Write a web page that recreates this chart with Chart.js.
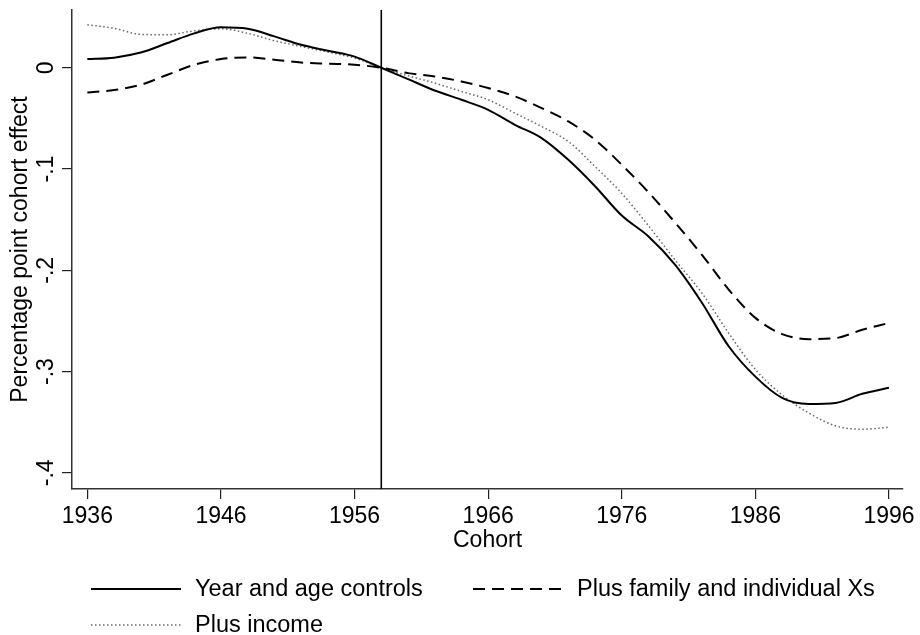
<!DOCTYPE html>
<html>
<head>
<meta charset="utf-8">
<title>Cohort effects</title>
<script src="https://cdn.jsdelivr.net/npm/chart.js@4.4.1/dist/chart.umd.min.js"></script>
<style>
  html, body { margin: 0; padding: 0; background: #fff; }
  #wrap { width: 920px; height: 635px; position: relative; }
</style>
</head>
<body>
<div id="wrap"><canvas id="cohortChart"></canvas></div>
<script>
// values (two-year steps)
const cohortYears = [1936, 1938, 1940, 1942, 1944, 1946, 1948, 1950, 1952, 1954, 1956,
                     1958, 1960, 1962, 1964, 1966, 1968, 1970, 1972, 1974, 1976,
                     1978, 1980, 1982, 1984, 1986, 1988, 1990, 1992, 1994, 1996];

const yearAgeControls = [0.0086, 0.0100, 0.0150, 0.0244, 0.0340, 0.0400, 0.0385, 0.0310, 0.0227, 0.0168, 0.0110,
                         0.0000, -0.0112, -0.0224, -0.0316, -0.0415, -0.0563, -0.0694, -0.0909, -0.1170, -0.1460,
                         -0.1666, -0.1946, -0.2320, -0.2750, -0.3050, -0.3260, -0.3320, -0.3310, -0.3220, -0.3160];

const plusFamilyXs = [-0.0244, -0.0220, -0.0168, -0.0069, 0.0030, 0.0086, 0.0102, 0.0079, 0.0052, 0.0040, 0.0030,
                      0.0000, -0.0053, -0.0086, -0.0135, -0.0200, -0.0283, -0.0398, -0.0530, -0.0711, -0.0958,
                      -0.1230, -0.1530, -0.1847, -0.2190, -0.2470, -0.2630, -0.2680, -0.2670, -0.2588, -0.2520];

const plusIncome = [0.0425, 0.0390, 0.0330, 0.0326, 0.0365, 0.0385, 0.0340, 0.0267, 0.0210, 0.0155, 0.0096,
                    0.0000, -0.0079, -0.0151, -0.0234, -0.0316, -0.0448, -0.0580, -0.0728, -0.0975, -0.1240,
                    -0.1560, -0.1900, -0.2225, -0.2620, -0.2980, -0.3230, -0.3410, -0.3536, -0.3570, -0.3550];

const seriesNames = ['Year and age controls', 'Plus family and individual Xs', 'Plus income'];
const referenceCohort = 1958;
const xTickValues = [1936, 1946, 1956, 1966, 1976, 1986, 1996];
const yTickValues = [-0.4, -0.3, -0.2, -0.1, 0];

const fontFamily = "'Liberation Sans', Arial, Helvetica, sans-serif";

function toPoints(values) {
    return cohortYears.map((year, i) => ({ x: year, y: values[i] }));
}

// stata style labels: 0, -.1, -.2 ...
function formatY(v) {
    if (Math.abs(v) < 1e-9) return '0';
    return (v < 0 ? '-' : '') + Math.abs(v).toFixed(1).replace(/^0/, '');
}

// vertical line at the reference cohort
const refLinePlugin = {
    id: 'refLine',
    afterDatasetsDraw(chart) {
        const { ctx, chartArea, scales } = chart;
        const px = scales.x.getPixelForValue(referenceCohort);
        ctx.save();
        ctx.strokeStyle = '#000';
        ctx.lineWidth = 1.6;
        ctx.beginPath();
        ctx.moveTo(px, chartArea.top);
        ctx.lineTo(px, chartArea.bottom);
        ctx.stroke();
        ctx.restore();
    }
};

// legend below the plot, two columns like the original
const legendPlugin = {
    id: 'bottomLegend',
    afterDraw(chart) {
        const { ctx } = chart;
        const slots = [{ x: 91, y: 589 }, { x: 473, y: 589 }, { x: 91, y: 625 }];
        chart.data.datasets.forEach((ds, i) => {
            const s = slots[i];
            ctx.save();
            ctx.strokeStyle = ds.borderColor;
            ctx.lineWidth = ds.borderWidth;
            ctx.setLineDash(ds.borderDash || []);
            ctx.beginPath();
            ctx.moveTo(s.x, s.y);
            ctx.lineTo(s.x + 90, s.y);
            ctx.stroke();
            ctx.setLineDash([]);
            ctx.fillStyle = '#000';
            ctx.font = '23.5px ' + fontFamily;
            ctx.textBaseline = 'middle';
            ctx.textAlign = 'left';
            ctx.fillText(ds.label, s.x + 104, s.y + 1);
            ctx.restore();
        });
    }
};

const ctx = document.getElementById('cohortChart').getContext('2d');
new Chart(ctx, {
    type: 'line',
    data: {
        datasets: [
            {
                label: seriesNames[0],
                data: toPoints(yearAgeControls),
                borderColor: '#000',
                borderWidth: 2,
                borderDash: []
            },
            {
                label: seriesNames[1],
                data: toPoints(plusFamilyXs),
                borderColor: '#000',
                borderWidth: 2,
                borderDash: [12, 7]
            },
            {
                label: seriesNames[2],
                data: toPoints(plusIncome),
                borderColor: '#666',
                borderWidth: 1.5,
                borderDash: [1.5, 2.5]
            }
        ]
    },
    options: {
        responsive: true,
        maintainAspectRatio: false,
        animation: false,
        layout: { padding: { left: 0, top: 10, right: 17, bottom: 80 } },
        elements: {
            point: { radius: 0 },
            line: { cubicInterpolationMode: 'monotone', borderCapStyle: 'butt', fill: false }
        },
        plugins: {
            legend: { display: false },
            tooltip: { enabled: false }
        },
        scales: {
            x: {
                type: 'linear',
                min: 1934.85,
                max: 1997.05,
                afterBuildTicks: s => { s.ticks = xTickValues.map(v => ({ value: v })); },
                afterFit: s => { s.height = 66; },
                grid: { drawOnChartArea: false, drawTicks: true, tickLength: 10, color: '#222', lineWidth: 1.2 },
                border: { display: true, color: '#333', width: 1.5 },
                ticks: {
                    color: '#000',
                    autoSkip: false,
                    maxRotation: 0,
                    padding: 4,
                    font: { family: fontFamily, size: 23 },
                    callback: v => String(v)
                },
                title: {
                    display: true,
                    text: 'Cohort',
                    color: '#000',
                    font: { family: fontFamily, size: 23 },
                    padding: { top: 0, bottom: 1 }
                }
            },
            y: {
                type: 'linear',
                min: -0.416,
                max: 0.057,
                afterBuildTicks: s => { s.ticks = yTickValues.map(v => ({ value: v })); },
                afterFit: s => { s.width = 72; },
                grid: { drawOnChartArea: false, drawTicks: true, tickLength: 10, color: '#222', lineWidth: 1.2 },
                border: { display: true, color: '#333', width: 1.5 },
                ticks: {
                    color: '#000',
                    minRotation: 90,
                    maxRotation: 90,
                    crossAlign: 'center',
                    padding: 2,
                    font: { family: fontFamily, size: 23, lineHeight: 0.7 },
                    callback: v => formatY(v)
                },
                title: {
                    display: true,
                    text: 'Percentage point cohort effect',
                    color: '#000',
                    font: { family: fontFamily, size: 23 },
                    padding: { top: 7, bottom: 0 }
                }
            }
        }
    },
    plugins: [refLinePlugin, legendPlugin]
});
</script>
</body>
</html>
